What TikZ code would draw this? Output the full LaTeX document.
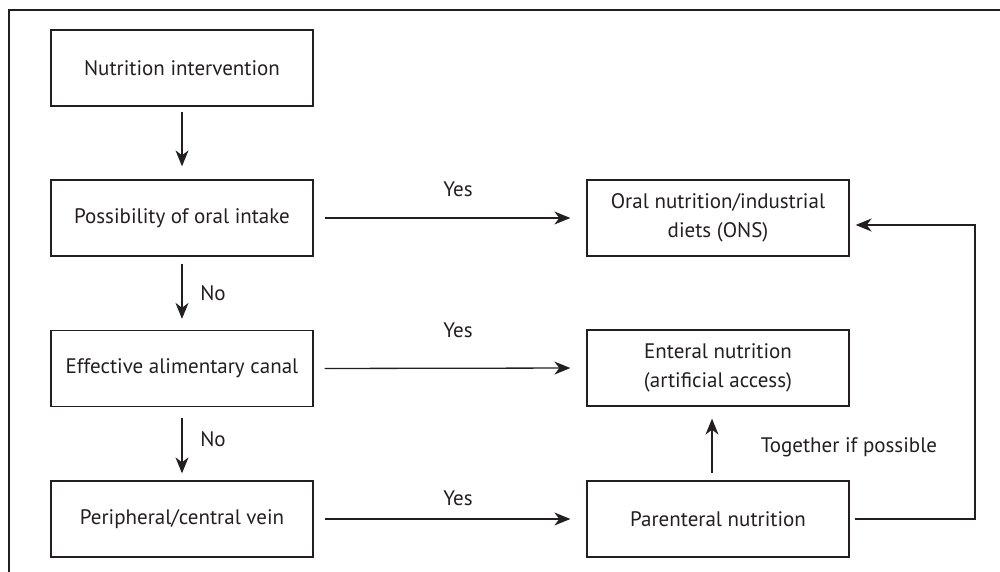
\documentclass[tikz,border=0pt]{standalone}
\usepackage{fontspec}
\setmainfont{PT Sans}
\usetikzlibrary{arrows.meta}
\definecolor{ink}{HTML}{231F20}
\begin{document}
\begin{tikzpicture}[x=1pt,y=-1pt,
  box/.style={draw=ink,line width=1.3pt,minimum width=262pt,minimum height=76pt,inner sep=0pt,align=center,font=\fontsize{21}{29}\selectfont,text=ink},
  lbl/.style={font=\fontsize{21}{24}\selectfont,text=ink,inner sep=0pt},
  arr/.style={draw=ink,line width=1.3pt,-{Stealth[length=16pt,width=13pt,inset=5pt]}}]
\useasboundingbox (0,0) rectangle (1000,572);
\draw[ink,line width=1.3pt] (9,572) -- (9,10) -- (1000,10);
\node[box] (ni) at (182,68) {Nutrition intervention};
\node[box] (po) at (182,218) {Possibility of oral intake};
\node[box] (ea) at (182,368.5) {Effective alimentary canal};
\node[box] (pc) at (182,519) {Peripheral/central vein};
\node[box] (ons) at (718,218) {Oral nutrition/industrial\\diets (ONS)};
\node[box] (en) at (718,368) {Enteral nutrition\\(artificial access)};
\node[box] (pn) at (718,519) {Parenteral nutrition};
\draw[arr,shorten <=5pt,shorten >=13pt] (ni.south) -- (po.north);
\draw[arr,shorten <=7pt,shorten >=11pt] (po.south) -- (ea.north);
\draw[arr,shorten <=11pt,shorten >=7pt] (ea.south) -- (pc.north);
\draw[arr,shorten <=11pt,shorten >=16pt] (po.east) -- (ons.west);
\draw[arr,shorten <=11pt,shorten >=16pt] (ea.east) -- (en.west);
\draw[arr,shorten <=11pt,shorten >=16pt] (pc.east) -- (pn.west);
\draw[arr,shorten <=7pt,shorten >=12pt] ([xshift=-6pt]pn.north) -- ([xshift=-6pt]en.south);
\coordinate (fb) at (975,225);
\draw[arr,shorten <=5pt,shorten >=6pt] (pn.east) -| (fb) -- (fb -| ons.east);
\node[lbl] (y1) at (458,189) {Yes};
\node[lbl] (y2) at (458,330) {Yes};
\node[lbl] (y3) at (458,498) {Yes};
\node[lbl] (n1) at (213,293) {No};
\node[lbl] (n2) at (213,439) {No};
\node[lbl] (tg) at (849,447) {Together if possible};
\end{tikzpicture}
\end{document}
